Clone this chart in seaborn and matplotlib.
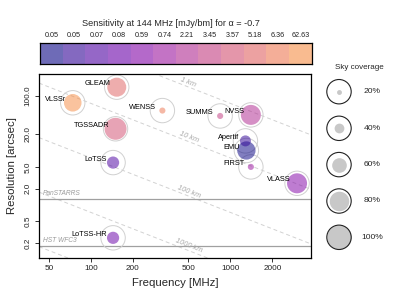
import numpy as np
import pandas as pd
import matplotlib
matplotlib.use("Agg")
import matplotlib.pyplot as plt
from matplotlib.colors import ListedColormap
import seaborn as sns

# ---- data (ordered by sensitivity, matching the colour bar) ----
surveys = ["EMU", "Apertif", "LoTSS", "LoTSS-HR", "VLASS", "FIRST",
           "NVSS", "SUMMS", "TGSSADR", "GLEAM", "WENSS", "VLSSr"]
freq_mhz = [1300, 1280, 144, 144, 3000, 1400, 1400, 843, 150, 153, 325, 74]
res_arcsec = [10, 15, 6, 0.25, 2.5, 5, 45, 43, 25, 145, 54, 75]
sky_cov = [75, 45, 50, 50, 82, 25, 82, 25, 90, 78, 25, 72]
sens_labels = ["0.05", "0.05", "0.07", "0.08", "0.59", "0.74", "2.21",
               "3.45", "3.57", "5.18", "6.36", "62.63"]
baseline_km = [1, 10, 100, 1000, 10000]
baseline_labels = ["1 km", "10 km", "100 km", "1000 km"]
ref_lines = [1.3, 0.18]
ref_names = ["PanSTARRS", "HST WFC3"]
legend_cov = [20, 40, 60, 80, 100]

K_RES = 73000.0  # arcsec * MHz * km

sns.set_style("white")
plt.rcParams["font.family"] = ["Liberation Sans", "DejaVu Sans"]

W, H = 415, 297
fig = plt.figure(figsize=(W / 100, H / 100), dpi=100)


def px_rect(l, t, r, b):
    return [l / W, 1 - b / H, (r - l) / W, (b - t) / H]


ax = fig.add_axes(px_rect(39, 74, 311, 257.7))
cax = fig.add_axes(px_rect(40, 43.3, 311.7, 64.3))
lax = fig.add_axes(px_rect(315, 55, 415, 265))

# colours
ALPHA = 0.6
PT_ALPHA = 0.52
cmap = matplotlib.colormaps["plasma"]
raw_cols = [cmap(v) for v in np.linspace(0, 0.73, len(surveys))]
blend = [tuple(ALPHA * np.array(c[:3]) + (1 - ALPHA)) for c in raw_cols]
palette = {s: c for s, c in zip(surveys, raw_cols)}

df = pd.DataFrame({"survey": surveys, "freq": freq_mhz, "res": res_arcsec,
                   "cov": sky_cov})

PX2PT = 0.72
R_OUT = 12.2


def s_of(r_px):
    return (2 * r_px * PX2PT) ** 2


ax.set_xscale("log")
ax.set_yscale("log")
xlim = (42.4, 3777)
ylim = (0.108, 253)
ax.set_xlim(*xlim)
ax.set_ylim(*ylim)

# baseline lines
fgrid = np.geomspace(xlim[0], xlim[1], 200)
for D in baseline_km:
    ax.plot(fgrid, K_RES / (fgrid * D), ls=(0, (4, 3)), color="#d2d2d2",
            lw=0.7, zorder=1)

# reference horizontal lines
for yv, nm in zip(ref_lines, ref_names):
    ax.axhline(yv, color="#a0a0a0", lw=0.9, zorder=1)
    ax.annotate(nm, (45, yv), xytext=(0, 1), textcoords="offset points",
                ha="left", va="bottom", fontsize=4.8, style="italic",
                color="#9a9a9a")

# outer circles
sns.scatterplot(data=df, x="freq", y="res", s=s_of(R_OUT),
                facecolor="none", edgecolor="#d0d0d0", linewidth=0.7,
                legend=False, ax=ax, zorder=2)
# inner circles
size_map = {c: s_of(R_OUT * c / 100) for c in sorted(set(sky_cov))}
sns.scatterplot(data=df, x="freq", y="res", hue="survey", palette=palette,
                size="cov", sizes=size_map, alpha=PT_ALPHA, linewidth=0,
                legend=False, ax=ax, zorder=3)

for s, f, r in zip(surveys, freq_mhz, res_arcsec):
    ax.annotate(s, (f, r), xytext=(-4.7, 2.5), textcoords="offset points",
                ha="right", va="center", fontsize=5.3, color="black",
                zorder=5)

# baseline labels, rotated along lines
fig.canvas.draw()
for D, lab in zip(baseline_km, baseline_labels):
    f0, f1 = 500, 600
    p0 = ax.transData.transform((f0, K_RES / (f0 * D)))
    p1 = ax.transData.transform((f1, K_RES / (f1 * D)))
    ang = np.degrees(np.arctan2(p1[1] - p0[1], p1[0] - p0[0]))
    ax.annotate(lab, (f0, K_RES / (f0 * D)), xytext=(0, 3.2),
                textcoords="offset points", ha="center", va="center",
                rotation=ang, rotation_mode="anchor", fontsize=5.3,
                style="italic", color="#a8a8a8")

ax.set_xticks([50, 100, 200, 500, 1000, 2000])
ax.set_xticklabels(["50", "100", "200", "500", "1000", "2000"])
ax.set_yticks([0.2, 0.5, 2, 5, 20, 100])
ax.set_yticklabels(["0.2", "0.5", "2.0", "5.0", "20.0", "100.0"],
                   rotation=90, va="center")
ax.minorticks_off()
ax.tick_params(axis="both", which="major", direction="out", length=2.6,
               width=0.7, labelsize=5.9, color="#333333",
               labelcolor="#222222", bottom=True, left=True)
ax.tick_params(axis="x", pad=3)
ax.tick_params(axis="y", pad=2.5)
for sp in ax.spines.values():
    sp.set_visible(True)
    sp.set_color("black")
    sp.set_linewidth(0.9)
ax.set_xlabel("")
ax.set_ylabel("")
fig.text(175 / W, 1 - 283 / H, "Frequency [MHz]", ha="center", va="center",
         fontsize=8.2)
fig.text(12 / W, 1 - 166 / H, "Resolution [arcsec]", ha="center",
         va="center", rotation=90, fontsize=8.2)

# colour bar
sns.heatmap(np.arange(len(surveys)).reshape(1, -1),
            cmap=ListedColormap(blend), cbar=False, ax=cax,
            xticklabels=sens_labels, yticklabels=False, linewidths=0)
cax.xaxis.set_ticks_position("top")
cax.tick_params(axis="x", length=0, labelsize=5.2, pad=3, rotation=0,
                labelcolor="#222222")
for sp in cax.spines.values():
    sp.set_visible(True)
    sp.set_color("black")
    sp.set_linewidth(0.9)
fig.text(171 / W, 1 - 23 / H,
         "Sensitivity at 144 MHz [mJy/bm] for \u03b1 = -0.7",
         ha="center", va="center", fontsize=6.6)

# size legend
lax.set_xlim(315, 415)
lax.set_ylim(265, 55)
lax.axis("off")
lax.text(359, 68, "Sky coverage", ha="center", va="center", fontsize=5.8)
ys = [91.7, 128.3, 164.6, 201, 237.3]
for c, yy in zip(legend_cov, ys):
    lax.scatter([339], [yy], s=s_of(R_OUT * c / 100), color="#c8c8c8",
                linewidth=0, zorder=2)
    lax.scatter([339], [yy], s=s_of(R_OUT), facecolor="none",
                edgecolor="#222222", linewidth=0.8, zorder=3)
    lax.text(372, yy, f"{c}%", ha="center", va="center", fontsize=6.1)

fig.savefig("out.png", dpi=100)
